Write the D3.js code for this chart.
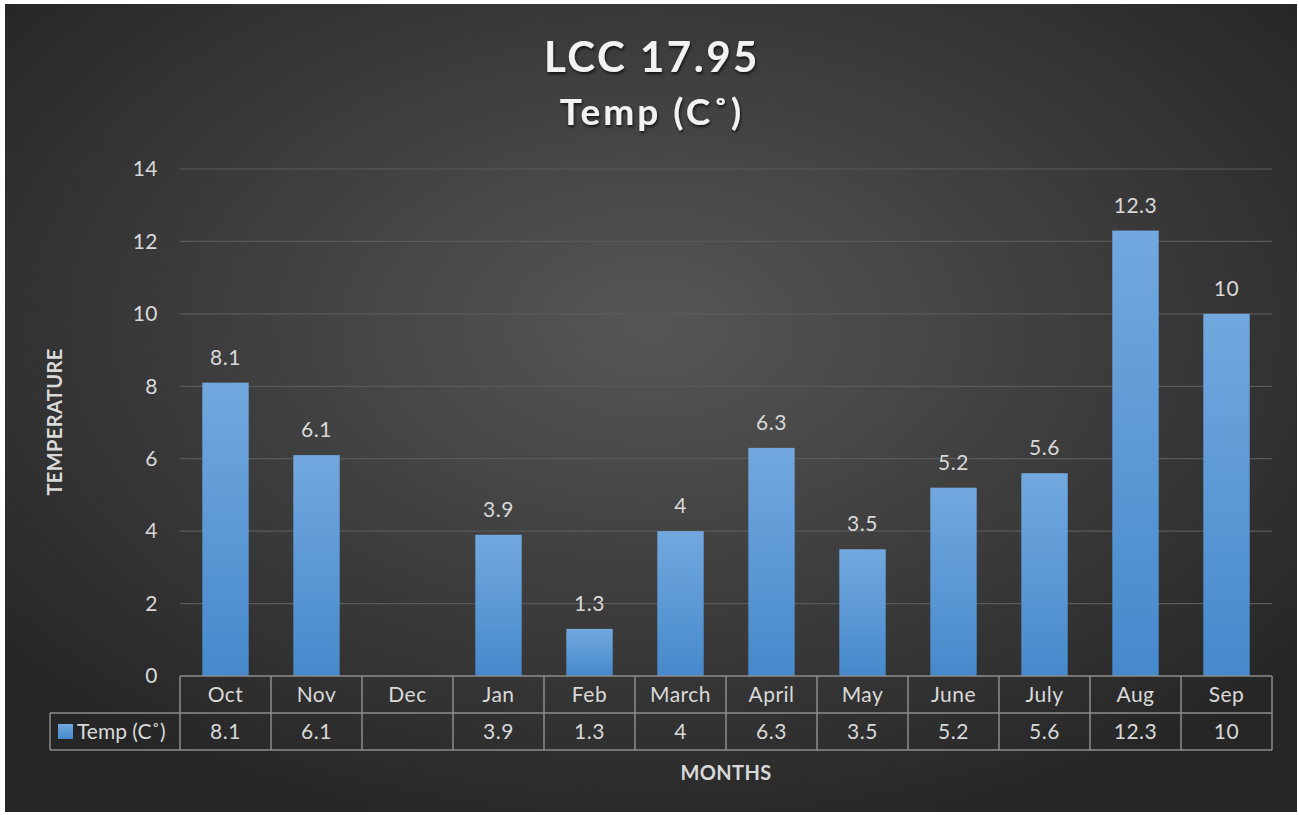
<!DOCTYPE html>
<html><head><meta charset="utf-8">
<script src="https://cdn.jsdelivr.net/npm/d3@7"></script>
<style>body{margin:0;background:#fff;}svg{display:block;}</style>
</head><body>
<script>
const categories = ["Oct","Nov","Dec","Jan","Feb","March","April","May","June","July","Aug","Sep"];
const values = [8.1, 6.1, null, 3.9, 1.3, 4, 6.3, 3.5, 5.2, 5.6, 12.3, 10];
const yTicks = [0, 2, 4, 6, 8, 10, 12, 14];
const seriesName = "Temp (C˚)";
const titleLines = ["LCC 17.95", "Temp (C˚)"];
const yTitle = "TEMPERATURE", xTitle = "MONTHS";

const W = 1299, H = 815;
const font = "Lato, 'Open Sans', sans-serif";
const fs = 21, ls = 0.5, txt = "#d9d9d9";
const svg = d3.select("body").append("svg").attr("width", W).attr("height", H);
const defs = svg.append("defs");
const rg = defs.append("radialGradient").attr("id","bg").attr("cx","50%").attr("cy","40%").attr("r","65%");
rg.append("stop").attr("offset","0%").attr("stop-color","#565656");
rg.append("stop").attr("offset","100%").attr("stop-color","#262626");
const lg = defs.append("linearGradient").attr("id","bar").attr("x1",0).attr("y1",0).attr("x2",0).attr("y2",1);
lg.append("stop").attr("offset","0%").attr("stop-color","#72a8df");
lg.append("stop").attr("offset","100%").attr("stop-color","#4689cc");
const f = defs.append("filter").attr("id","sh").attr("x","-10%").attr("y","-20%").attr("width","120%").attr("height","150%");
f.append("feDropShadow").attr("dx",1).attr("dy",2).attr("stdDeviation",1.5).attr("flood-color","#000").attr("flood-opacity",0.7);

svg.append("rect").attr("x",5).attr("y",4).attr("width",1292).attr("height",808).attr("fill","url(#bg)");

const x0 = 180, x1 = 1272, yTop = 169, yBot = 676;
const x = d3.scaleBand().domain(categories).range([x0, x1]).paddingInner(0.49).paddingOuter(0.245);
const y = d3.scaleLinear().domain([0, 14]).range([yBot, yTop]);

// gridlines
svg.append("g").selectAll("line").data(yTicks.filter(t=>t>0)).join("line")
  .attr("x1", x0).attr("x2", x1).attr("y1", d=>y(d)).attr("y2", d=>y(d))
  .attr("stroke","#5a5a5a").attr("stroke-width",1.2);

// y axis labels
svg.append("g").selectAll("text").data(yTicks).join("text")
  .attr("x", 158).attr("y", d=>y(d)).attr("dy","0.35em").attr("text-anchor","end")
  .attr("fill",txt).attr("font-family",font).attr("font-size",fs).attr("letter-spacing",ls).text(d=>d);

// bars
const data = categories.map((c,i)=>({c, v: values[i]})).filter(d=>d.v!=null);
svg.append("g").selectAll("rect").data(data).join("rect")
  .attr("x", d=>x(d.c)).attr("width", x.bandwidth())
  .attr("y", d=>y(d.v)).attr("height", d=>yBot - y(d.v))
  .attr("fill","url(#bar)");
svg.append("g").selectAll("text").data(data).join("text")
  .attr("x", d=>x(d.c)+x.bandwidth()/2).attr("y", d=>y(d.v)-18)
  .attr("text-anchor","middle").attr("fill",txt).attr("font-family",font).attr("font-size",fs).attr("letter-spacing",ls)
  .text(d=>d.v);

// data table
const rowH = 37, r1 = yBot, r2 = yBot + rowH, r3 = yBot + 2*rowH;
const step = (x1 - x0) / categories.length;
const tg = svg.append("g").attr("stroke","#8c8c8c").attr("stroke-width",1.5).attr("fill","none");
tg.append("line").attr("x1",x0).attr("x2",x1).attr("y1",r1).attr("y2",r1);
tg.append("line").attr("x1",50).attr("x2",x1).attr("y1",r2).attr("y2",r2);
tg.append("line").attr("x1",50).attr("x2",x1).attr("y1",r3).attr("y2",r3);
tg.append("line").attr("x1",50).attr("x2",50).attr("y1",r2).attr("y2",r3);
d3.range(categories.length+1).forEach(i=>{
  tg.append("line").attr("x1",x0+i*step).attr("x2",x0+i*step).attr("y1",r1).attr("y2",r3);
});
svg.append("g").selectAll("text").data(categories).join("text")
  .attr("x",(d,i)=>x0+(i+0.5)*step).attr("y",(r1+r2)/2).attr("dy","0.35em").attr("text-anchor","middle")
  .attr("fill",txt).attr("font-family",font).attr("font-size",fs).attr("letter-spacing",ls).text(d=>d);
svg.append("g").selectAll("text").data(values).join("text")
  .attr("x",(d,i)=>x0+(i+0.5)*step).attr("y",(r2+r3)/2).attr("dy","0.35em").attr("text-anchor","middle")
  .attr("fill",txt).attr("font-family",font).attr("font-size",fs).attr("letter-spacing",ls).text(d=>d==null?"":d);
svg.append("rect").attr("x",58).attr("y",(r2+r3)/2-7.5).attr("width",15).attr("height",15).attr("fill","url(#bar)");
svg.append("text").attr("x",77).attr("y",(r2+r3)/2).attr("dy","0.35em")
  .attr("fill",txt).attr("font-family",font).attr("font-size",fs).attr("letter-spacing",0).text(seriesName);

// axis titles
svg.append("text").attr("transform","translate(62,422) rotate(-90)").attr("text-anchor","middle")
  .attr("fill",txt).attr("font-family",font).attr("font-weight","bold").attr("font-size",20).attr("letter-spacing",0.4).text(yTitle);
svg.append("text").attr("x",726).attr("y",780).attr("text-anchor","middle")
  .attr("fill",txt).attr("font-family",font).attr("font-weight","bold").attr("font-size",20).attr("letter-spacing",0.4).text(xTitle);

// title
svg.append("text").attr("x",652).attr("y",72).attr("text-anchor","middle")
  .attr("fill","#f2f2f2").attr("font-family",font).attr("font-weight","bold").attr("font-size",42)
  .attr("letter-spacing",2.5).attr("filter","url(#sh)").text(titleLines[0]);
svg.append("text").attr("x",652).attr("y",125).attr("text-anchor","middle")
  .attr("fill","#f2f2f2").attr("font-family",font).attr("font-weight","bold").attr("font-size",37)
  .attr("letter-spacing",3).attr("filter","url(#sh)").text(titleLines[1]);
</script>
</body></html>
